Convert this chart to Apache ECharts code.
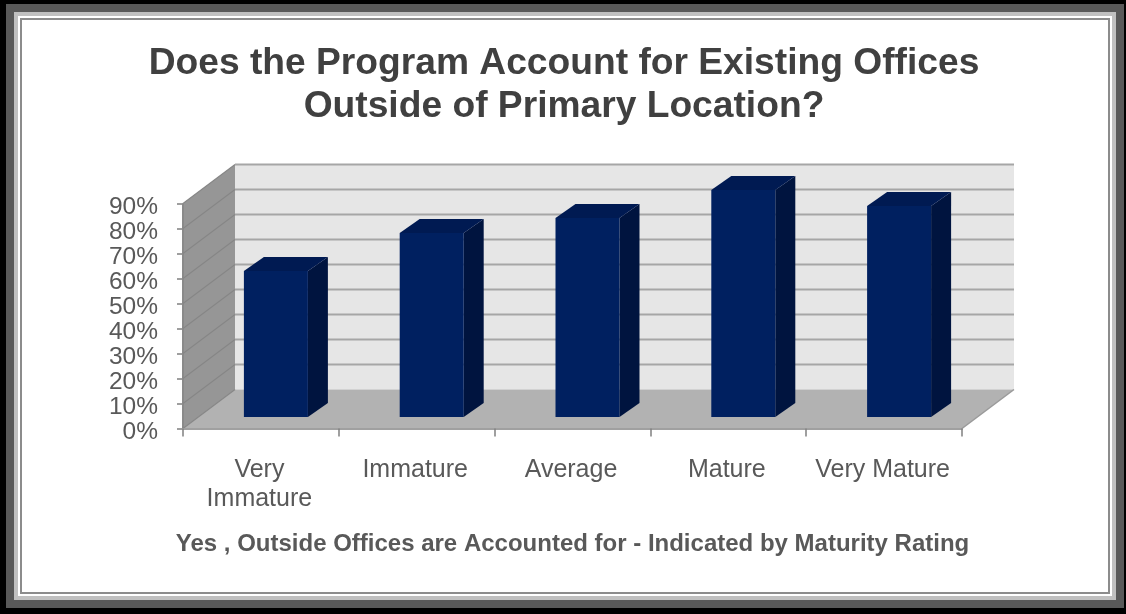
<!DOCTYPE html>
<html>
<head>
<meta charset="utf-8">
<style>html,body{margin:0;padding:0;background:#fff}#c{width:1126px;height:614px}</style>
<script src="https://cdn.jsdelivr.net/npm/echarts@6/dist/echarts.min.js"></script>
</head>
<body>
<div id="c"></div>
<script>
const categories = ['Very\nImmature', 'Immature', 'Average', 'Mature', 'Very Mature'];
const values = [58.4, 73.6, 79.6, 90.8, 84.4];
const yTicks = [0, 10, 20, 30, 40, 50, 60, 70, 80, 90];
const titleText = 'Does the Program Account for Existing Offices\nOutside of Primary Location?';
const captionText = 'Yes , Outside Offices are Accounted for - Indicated by Maturity Rating';

const DEPTH_X = 52, DEPTH_Y = -39;      // oblique depth of the box
const BAR_DX = 15, BAR_DY = -11.5;      // bar's front face inside the box
const BAR_DEPTH_X = 20, BAR_DEPTH_Y = -14;
const BAR_W = 64;

function poly(points, fill) {
  return { type: 'polygon', shape: { points }, style: { fill, stroke: null } };
}
function renderWalls(params, api) {
  const g = params.coordSys, l = g.x, r = g.x + g.width, t = g.y, b = g.y + g.height;
  const dx = DEPTH_X, dy = DEPTH_Y;
  return { type: 'group', children: [
    poly([[l + dx, t + dy], [r + dx, t + dy], [r + dx, b + dy], [l + dx, b + dy]], '#e6e6e6'),
    poly([[l, t], [l + dx, t + dy], [l + dx, b + dy], [l, b]], '#969696'),
    poly([[l, b], [l + dx, b + dy], [r + dx, b + dy], [r, b]], '#b2b2b2'),
    { type: 'polyline', shape: { points: [[r, b], [r + dx, b + dy]] }, style: { stroke: '#9a9a9a', lineWidth: 1.5, fill: null } },
    { type: 'polyline', shape: { points: [[l, t], [l, b]] }, style: { stroke: '#8a8a8a', lineWidth: 2, fill: null } }
  ]};
}
function renderGrid(params, api) {
  const y = api.coord([0, api.value(1)])[1];
  const g = params.coordSys, l = g.x, r = g.x + g.width;
  const children = [
    { type: 'line', shape: { x1: l, y1: y, x2: l + DEPTH_X, y2: y + DEPTH_Y }, style: { stroke: '#868686', lineWidth: 1.2 } }
  ];
  if (api.value(1) > 0) {
    children.push({ type: 'line', shape: { x1: l + DEPTH_X, y1: y + DEPTH_Y, x2: r + DEPTH_X, y2: y + DEPTH_Y }, style: { stroke: '#a6a6a6', lineWidth: 2 } });
  }
  return { type: 'group', children };
}
function renderBar(params, api) {
  const top = api.coord([api.value(0), api.value(1)]);
  const base = api.coord([api.value(0), 0]);
  const x0 = top[0] + BAR_DX - BAR_W / 2, x1 = x0 + BAR_W;
  const y0 = top[1] + BAR_DY, y1 = base[1] + BAR_DY;
  const ddx = BAR_DEPTH_X, ddy = BAR_DEPTH_Y;
  return { type: 'group', children: [
    poly([[x1, y0], [x1 + ddx, y0 + ddy], [x1 + ddx, y1 + ddy], [x1, y1]], '#00143f'),
    poly([[x0, y0], [x0 + ddx, y0 + ddy], [x1 + ddx, y0 + ddy], [x1, y0]], '#001a52'),
    poly([[x0, y0], [x1, y0], [x1, y1], [x0, y1]], '#002060')
  ]};
}
function frameRect(l, t, r, b, fill, z) {
  return { type: 'rect', z, silent: true, shape: { x: l, y: t, width: r - l, height: b - t }, style: { fill } };
}

const chart = echarts.init(document.getElementById('c'), null, { renderer: 'canvas' });
chart.setOption({
  animation: false,
  backgroundColor: '#ffffff',
  textStyle: { fontFamily: '"Liberation Sans", Arial, sans-serif' },
  title: [
    { text: titleText, left: 559, textAlign: 'center', top: 37, itemGap: 0, z: 5,
      textStyle: { fontFamily: '"Liberation Sans"', fontSize: 37.2, fontWeight: 'bold', color: '#404040', lineHeight: 43 } },
    { text: captionText, left: 567.5, textAlign: 'center', top: 527, z: 5,
      textStyle: { fontFamily: '"Liberation Sans"', fontSize: 24, fontWeight: 'bold', color: '#595959' } }
  ],
  graphic: [
    frameRect(0, 0, 1126, 614, '#000000', 0),
    frameRect(6, 4, 1124, 608, '#595959', 0),
    frameRect(14, 12, 1116, 600, '#c0c0c0', 0),
    frameRect(18, 16, 1112, 596, '#ffffff', 0),
    frameRect(20, 18, 1110, 594, '#8c8c8c', 0),
    frameRect(22, 20, 1108, 592, '#ffffff', 0)
  ],
  grid: { left: 183, right: 164, top: 203.5, bottom: 185.5 },
  xAxis: {
    type: 'category', data: categories, boundaryGap: true,
    axisLine: { show: true, lineStyle: { color: '#a0a0a0', width: 2 } },
    axisTick: { show: true, length: 8, alignWithLabel: false, lineStyle: { color: '#808080', width: 1.5 } },
    axisLabel: { interval: 0, margin: 27, fontSize: 25, color: '#595959', lineHeight: 29, padding: [0, 3, 0, 0], fontFamily: '"Liberation Sans"' },
    z: 4
  },
  yAxis: {
    type: 'value', min: 0, max: 90, interval: 10,
    splitLine: { show: false },
    axisLine: { show: false },
    axisTick: { show: true, length: 6, lineStyle: { color: '#808080', width: 1.5 } },
    axisLabel: { formatter: '{value}%', margin: 25, fontSize: 24.5, verticalAlign: 'top', padding: [-9, 0, 0, 0], color: '#595959', fontFamily: '"Liberation Sans"' }
  },
  series: [
    { type: 'custom', name: 'walls', renderItem: renderWalls, data: [[0, 0]], silent: true, z: 1 },
    { type: 'custom', name: 'gridlines', renderItem: renderGrid, data: yTicks.map(t => [0, t]), silent: true, z: 2 },
    { type: 'custom', name: 'Yes', renderItem: renderBar, data: values.map((v, i) => [i, v]), encode: { x: 0, y: 1 }, silent: true, z: 3 }
  ]
});
</script>
</body>
</html>
